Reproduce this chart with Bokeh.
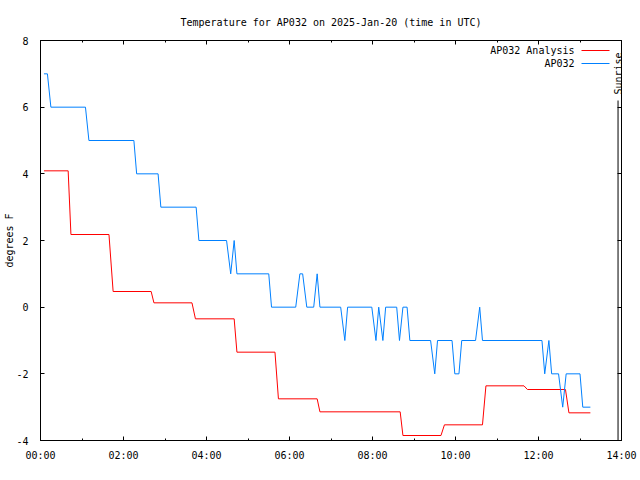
import math
from bokeh.plotting import figure
from bokeh.models import LinearAxis, FixedTicker, Label, Arrow, Range1d
from bokeh.embed import file_html
from bokeh.resources import INLINE

# ---------------- data ----------------
title_text = "Temperature for AP032 on 2025-Jan-20 (time in UTC)"
y_label_text = "degrees F"
analysis_name = "AP032 Analysis"
obs_name = "AP032"
sunrise_text = "Sunrise"
sunrise_time = "13:55"

x_tick_hours = [0, 2, 4, 6, 8, 10, 12, 14]
x_tick_labels = ["00:00", "02:00", "04:00", "06:00", "08:00", "10:00", "12:00", "14:00"]
x_minor_hours = [1, 3, 5, 7, 9, 11, 13]
y_ticks = [-4, -2, 0, 2, 4, 6, 8]
y_tick_labels = ["-4", "-2", "0", "2", "4", "6", "8"]

obs_times = ["00:05", "00:10", "00:15", "01:05", "01:10", "02:15", "02:19", "02:50", "02:54",
             "03:45", "03:49", "04:29", "04:35", "04:40", "04:44", "05:30", "05:34", "06:09",
             "06:15", "06:19", "06:25", "06:35", "06:40", "06:44", "07:14", "07:20", "07:24",
             "07:59", "08:05", "08:09", "08:15", "08:19", "08:35", "08:39", "08:44", "08:50",
             "08:54", "09:24", "09:30", "09:34", "09:55", "09:59", "10:05", "10:09", "10:29",
             "10:35", "10:39", "12:05", "12:09", "12:15", "12:19", "12:29", "12:35", "12:40",
             "13:00", "13:04", "13:15"]
obs_temps = [7, 7, 6, 6, 5, 5, 4, 4, 3,
             3, 2, 2, 1, 2, 1, 1, 0, 0,
             1, 1, 0, 0, 1, 0, 0, -1, 0,
             0, -1, 0, -1, 0, 0, -1, 0, 0,
             -1, -1, -2, -1, -1, -2, -2, -1, -1,
             0, -1, -1, -2, -1, -2, -2, -3, -2,
             -2, -3, -3]

ana_times = ["00:05", "00:40", "00:44", "01:39", "01:45", "02:40", "02:44", "03:39", "03:44",
             "04:40", "04:44", "05:39", "05:44", "06:40", "06:44", "08:40", "08:44", "09:39",
             "09:44", "10:39", "10:44", "11:39", "11:44", "12:39", "12:44", "13:15"]
ana_temps = [4.09, 4.09, 2.18, 2.18, 0.47, 0.47, 0.13, 0.13, -0.35,
             -0.35, -1.35, -1.35, -2.75, -2.75, -3.14, -3.14, -3.85, -3.85,
             -3.53, -3.53, -2.36, -2.36, -2.47, -2.47, -3.17, -3.17]

RED = "#ff0000"
BLUE = "#0080ff"
FONT = "DejaVu Sans Mono"
FS = "10px"


def to_h(s):
    h, m = s.split(":")
    return int(h) + int(m) / 60.0


X0, X1 = 0, 14
Y0, Y1 = -4, 8

p = figure(width=640, height=480, x_range=Range1d(X0, X1), y_range=Range1d(Y0, Y1),
           output_backend="svg", toolbar_location=None, title=title_text,
           min_border_left=40, min_border_right=19, min_border_top=40, min_border_bottom=40)
p.background_fill_color = "white"
p.border_fill_color = "white"
p.outline_line_color = "black"
p.outline_line_width = 1
p.xgrid.visible = False
p.ygrid.visible = False

p.title.align = "center"
p.title.text_font = FONT
p.title.text_font_size = FS
p.title.text_font_style = "normal"
p.title.text_color = "black"
p.title.standoff = 26

xt = FixedTicker(ticks=x_tick_hours, minor_ticks=x_minor_hours)
yt = FixedTicker(ticks=y_ticks)


def style_axis(ax, labels=True):
    ax.axis_line_color = "black"
    ax.major_tick_line_color = "black"
    ax.minor_tick_line_color = "black"
    ax.major_tick_in = 4
    ax.major_tick_out = 0
    ax.minor_tick_in = 2
    ax.minor_tick_out = 0
    ax.major_label_text_font = FONT
    if labels:
        ax.major_label_text_font_size = FS
        ax.major_label_text_color = "black"
    else:
        ax.major_label_text_font_size = "0px"
        ax.major_label_text_color = None
        ax.major_label_standoff = 0


xa = p.xaxis[0]
xa.ticker = xt
xa.major_label_overrides = {h: lab for h, lab in zip(x_tick_hours, x_tick_labels)}
style_axis(xa)
xa.major_label_standoff = 9

ya = p.yaxis[0]
ya.ticker = yt
ya.major_label_overrides = {v: lab for v, lab in zip(y_ticks, y_tick_labels)}
style_axis(ya)
ya.major_label_standoff = 12
ya.axis_label = y_label_text
ya.axis_label_text_font = FONT
ya.axis_label_text_font_size = FS
ya.axis_label_text_font_style = "normal"
ya.axis_label_text_color = "black"
ya.axis_label_standoff = -2

top = LinearAxis(ticker=FixedTicker(ticks=x_tick_hours, minor_ticks=x_minor_hours))
style_axis(top, labels=False)
p.add_layout(top, "above")
right = LinearAxis(ticker=FixedTicker(ticks=y_ticks))
style_axis(right, labels=False)
p.add_layout(right, "right")

# data lines
p.line([to_h(t) for t in ana_times], ana_temps, line_color=RED, line_width=1)
p.line([to_h(t) for t in obs_times], obs_temps, line_color=BLUE, line_width=1)

# sunrise marker
sr = to_h(sunrise_time)
p.segment(x0=[sr], y0=[Y0], x1=[sr], y1=[Y0 + 0.85 * (Y1 - Y0)], line_color="black", line_width=1)
p.add_layout(Label(x=sr, y=Y0 + 0.865 * (Y1 - Y0), text=sunrise_text, angle=math.pi / 2,
                   text_align="left", text_baseline="middle", text_font=FONT,
                   text_font_size=FS, text_color="black"))

# key (text right-aligned, sample line to the right); screen units from frame bottom-left
for i, (name, col) in enumerate([(analysis_name, RED), (obs_name, BLUE)]):
    yy = 390 - 13 * i
    p.add_layout(Label(x=534, y=yy, x_units="screen", y_units="screen", text=name,
                       text_align="right", text_baseline="middle", text_font=FONT,
                       text_font_size=FS, text_color="black"))
    p.add_layout(Arrow(end=None, x_start=541, y_start=yy, x_end=569, y_end=yy,
                       start_units="screen", end_units="screen", line_color=col, line_width=1))

open("out.html", "w").write(file_html(p, INLINE))
